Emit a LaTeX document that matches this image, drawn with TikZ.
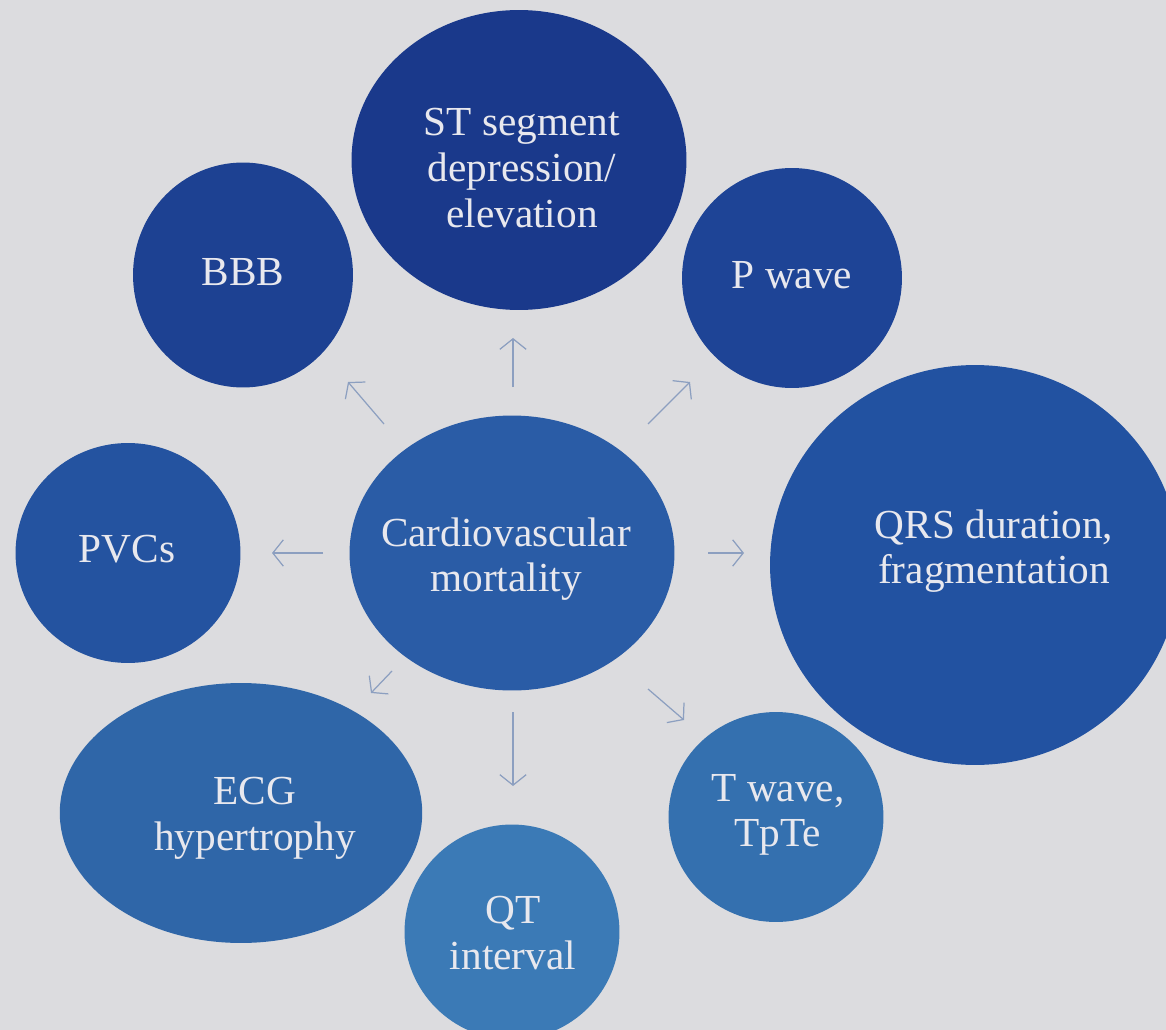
\documentclass[tikz,border=0pt]{standalone}
\usepackage{fontspec}
\setmainfont{Liberation Serif}
\usetikzlibrary{shapes.geometric,arrows.meta}
\definecolor{bgGray}{HTML}{DCDCDF}
\definecolor{textWhite}{HTML}{E8E8EE}
\definecolor{arrowBlue}{HTML}{8C9FC0}
\definecolor{navyST}{HTML}{1A398B}
\definecolor{navyBBB}{HTML}{1D4192}
\definecolor{navyP}{HTML}{1E4496}
\definecolor{blueQRS}{HTML}{2252A1}
\definecolor{bluePVC}{HTML}{2453A0}
\definecolor{blueCV}{HTML}{2A5CA6}
\definecolor{blueECG}{HTML}{2F66A8}
\definecolor{blueT}{HTML}{3470AF}
\definecolor{blueQT}{HTML}{3B7AB6}

\begin{document}
\begin{tikzpicture}[x=0.02cm,y=-0.02cm,
    bubble/.style={ellipse, inner sep=0pt},
    txt/.style={text=textWhite, align=center, inner sep=0pt,
                font=\fontsize{23.5}{26}\selectfont},
    arr/.style={draw=arrowBlue, line width=0.7pt,
                -{Straight Barb[length=6pt,width=15pt]}}]
  \useasboundingbox (0,0) rectangle (1166,1030);
  \clip (0,0) rectangle (1166,1030);
  \fill[bgGray] (0,0) rectangle (1166,1030);

  % outer ring
  \node[bubble, fill=navyST, minimum width=6.7cm, minimum height=6.0cm]
    (st) at (519,160) {};
  \node[bubble, fill=navyBBB, minimum width=4.4cm, minimum height=4.5cm]
    (bbb) at (243,275) {};
  \node[bubble, fill=navyP, minimum width=4.4cm, minimum height=4.4cm]
    (pwave) at (792,278) {};
  \node[bubble, fill=blueQRS, minimum width=8.2cm, minimum height=8.0cm]
    (qrs) at (975,565) {};
  \node[bubble, fill=bluePVC, minimum width=4.5cm, minimum height=4.4cm]
    (pvc) at (128,553) {};
  \node[bubble, fill=blueECG, minimum width=7.25cm, minimum height=5.2cm]
    (ecg) at (241,813) {};
  \node[bubble, fill=blueT, minimum width=4.3cm, minimum height=4.2cm]
    (twave) at (776,817) {};
  \node[bubble, fill=blueQT, minimum width=4.3cm, minimum height=4.3cm]
    (qt) at (512,932) {};

  % centre
  \node[bubble, fill=blueCV, minimum width=6.5cm, minimum height=5.5cm]
    (cv) at (512,553) {};

  % labels
  \node[txt] (stLbl)  at (522,168) {ST segment\\depression/\\elevation};
  \node[txt] (bbbLbl) at (243,272) {BBB};
  \node[txt] (pLbl)   at (792,275) {P wave};
  \node[txt] (qrsLbl) at (994,551) {QRS duration,\\fragmentation};
  \node[txt] (pvcLbl) at (127,549) {PVCs};
  \node[txt] (cvLbl)  at (506,559) {Cardiovascular\\mortality};
  \node[txt] (ecgLbl) at (255,818) {ECG\\hypertrophy};
  \node[txt] (tLbl)   at (778,815) {T wave,\\TpTe};
  \node[txt] (qtLbl)  at (513,933) {QT\\interval};

  % short arrows in the gaps
  \coordinate (upS) at (513,387);   \coordinate (upE) at (513,338);
  \coordinate (ulS) at (384,424);   \coordinate (ulE) at (348,382);
  \coordinate (urS) at (648,424);   \coordinate (urE) at (690,382);
  \coordinate (lfS) at (323,553);   \coordinate (lfE) at (272,553);
  \coordinate (rtS) at (708,553);   \coordinate (rtE) at (744,553);
  \coordinate (dlS) at (392,671);   \coordinate (dlE) at (371,693);
  \coordinate (dnS) at (513,712);   \coordinate (dnE) at (513,786);
  \coordinate (drS) at (648,689);   \coordinate (drE) at (684,720);
  \foreach \s/\e in {upS/upE, ulS/ulE, urS/urE, lfS/lfE,
                     rtS/rtE, dlS/dlE, dnS/dnE, drS/drE}
    \draw[arr] (\s) -- (\e);
\end{tikzpicture}
\end{document}
